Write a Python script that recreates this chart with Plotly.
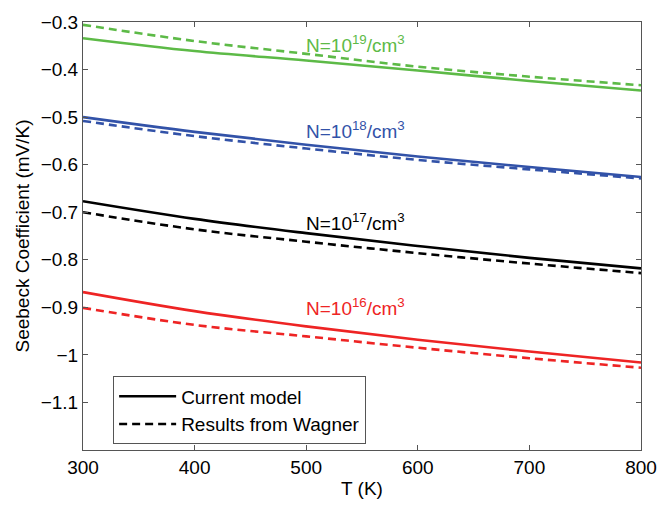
import plotly.graph_objects as go

# Temperature (K)
T = [300, 400, 500, 600, 700, 800]

# Seebeck coefficient (mV/K): current model (solid) and Wagner results (dashed)
g_model = [-0.334, -0.361, -0.381, -0.402, -0.424, -0.444]
g_wagner = [-0.306, -0.340, -0.367, -0.394, -0.415, -0.433]
b_model = [-0.500, -0.531, -0.558, -0.583, -0.605, -0.626]
b_wagner = [-0.508, -0.540, -0.566, -0.590, -0.610, -0.629]
k_model = [-0.677, -0.714, -0.744, -0.771, -0.796, -0.818]
k_wagner = [-0.700, -0.736, -0.762, -0.786, -0.808, -0.828]
r_model = [-0.868, -0.908, -0.940, -0.968, -0.993, -1.016]
r_wagner = [-0.901, -0.937, -0.961, -0.985, -1.007, -1.027]

labels = ["N=10<sup>19</sup>/cm<sup>3</sup>", "N=10<sup>18</sup>/cm<sup>3</sup>",
          "N=10<sup>17</sup>/cm<sup>3</sup>", "N=10<sup>16</sup>/cm<sup>3</sup>"]
label_x = [500, 500, 500, 500]
label_y = [-0.347, -0.528, -0.720, -0.900]

x_ticks = [300, 400, 500, 600, 700, 800]
y_ticks = [-1.1, -1.0, -0.9, -0.8, -0.7, -0.6, -0.5, -0.4, -0.3]
y_ticktext = ["\u22121.1", "\u22121", "\u22120.9", "\u22120.8", "\u22120.7",
              "\u22120.6", "\u22120.5", "\u22120.4", "\u22120.3"]

colors = ["#5dba47", "#3252a8", "#000000", "#ee2424"]
FONT = "Liberation Sans, Arial, Helvetica, sans-serif"

fig = go.Figure()
series = [(g_model, g_wagner), (b_model, b_wagner), (k_model, k_wagner), (r_model, r_wagner)]
for i, (m, w) in enumerate(series):
    is_black = (i == 2)
    fig.add_trace(go.Scatter(x=T, y=m, mode="lines",
                             line=dict(color=colors[i], width=2.6, shape="spline"),
                             name="Current model", showlegend=is_black, legendrank=1))
    fig.add_trace(go.Scatter(x=T, y=w, mode="lines",
                             line=dict(color=colors[i], width=2.6, dash="8px,5px", shape="spline"),
                             name="Results from Wagner", showlegend=is_black, legendrank=2))

for txt, xv, yv, c in zip(labels, label_x, label_y, colors):
    fig.add_annotation(x=xv, y=yv, text=txt, showarrow=False, xanchor="left", yanchor="middle",
                       font=dict(family=FONT, size=19, color=c), xshift=-2)

axis_common = dict(showgrid=False, zeroline=False, showline=True, linecolor="#555555", linewidth=1,
                   mirror="ticks", ticks="inside", ticklen=5, tickcolor="#555555",
                   tickfont=dict(family=FONT, size=19, color="black"))

fig.update_xaxes(range=[300, 800], tickvals=x_ticks,
                 title=dict(text="T (K)", font=dict(family=FONT, size=19, color="black"), standoff=4),
                 **axis_common)
fig.update_yaxes(range=[-1.2, -0.3], tickvals=y_ticks, ticktext=y_ticktext,
                 title=dict(text="Seebeck Coefficient (mV/K)", font=dict(family=FONT, size=19, color="black"),
                            standoff=6),
                 **axis_common)

fig.update_layout(
    width=670, height=507,
    margin=dict(l=83, r=29, t=16, b=50),
    paper_bgcolor="white", plot_bgcolor="white",
    font=dict(family=FONT, size=19, color="black"),
    legend=dict(x=0.054, y=0.172, xanchor="left", yanchor="top",
                bgcolor="white", bordercolor="#555555", borderwidth=1,
                itemwidth=57, font=dict(family=FONT, size=19, color="black"),
                tracegroupgap=0),
)

fig.write_html("out.html")
